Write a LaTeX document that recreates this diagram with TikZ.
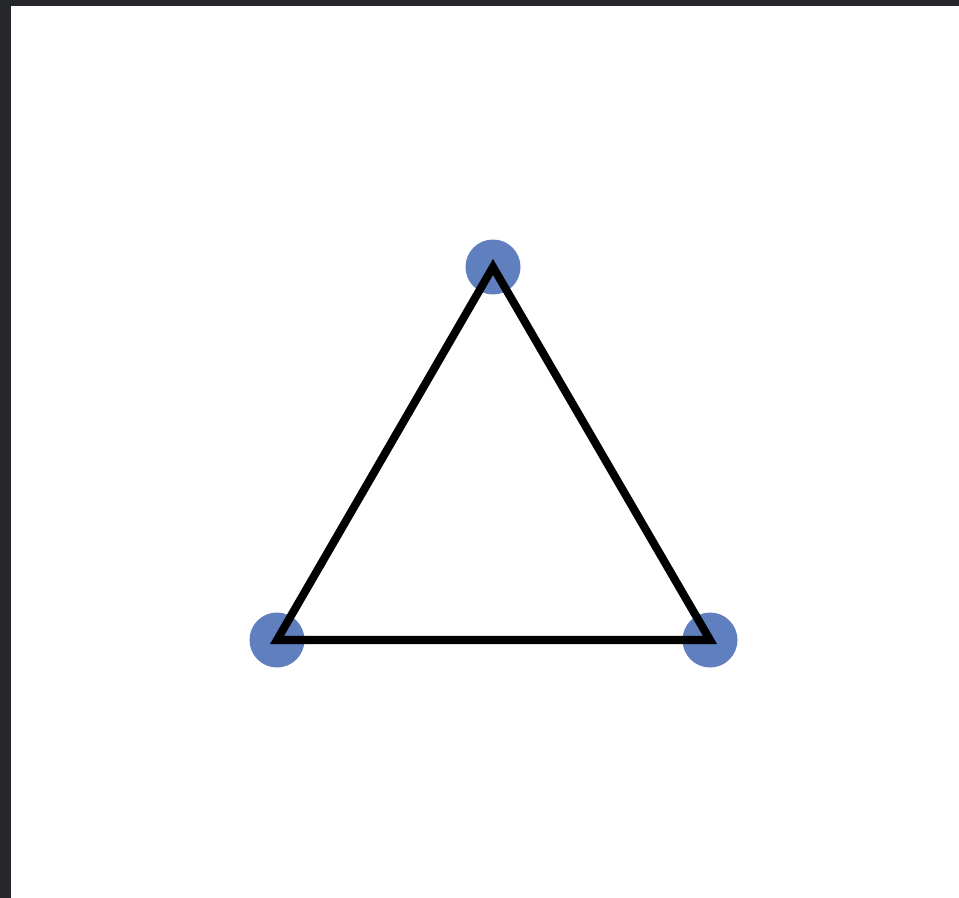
\documentclass[tikz,border=0pt]{standalone}
\usepackage{tikz}
\usetikzlibrary{
  shapes.geometric,
  positioning
}
\definecolor{FrameGray}{RGB}{38, 39, 43}
\definecolor{VertexBlue}{RGB}{96, 127, 190}
\tikzset{
    vertex/.style={circle, fill=VertexBlue, minimum size=1.1cm, inner sep=0pt},
    edge/.style={line width=4.6pt, black, line join=miter}
}
\begin{document}
\begin{tikzpicture}[x=0.02cm, y=-0.02cm]
                \useasboundingbox (0,0) rectangle (959,898);
                \fill[FrameGray] (0,0) rectangle (959,898);
                \fill[white] (11,6) rectangle (959,898);
                \node[vertex] (top) at (493,267) {};
                \node[vertex] (left) at (277,640) {};
                \node[vertex] (right) at (710,640) {};
                \draw[edge] (top.center) -- (left.center) -- (right.center) -- cycle;
            \end{tikzpicture}
\end{document}
